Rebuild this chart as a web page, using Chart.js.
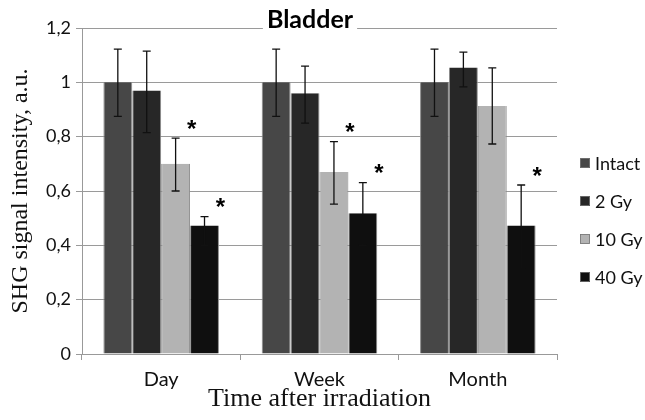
<!DOCTYPE html>
<html>
<head>
<meta charset="utf-8">
<script src="https://cdn.jsdelivr.net/npm/chart.js@4"></script>
<style>
    html, body { margin: 0; padding: 0; background: #fff; }
    #wrap { width: 645px; height: 420px; position: relative; }
</style>
</head>
<body>
<div id="wrap"><canvas id="chart"></canvas></div>
<script>
// Data
const categories = ['Day', 'Week', 'Month'];
const seriesNames = ['Intact', '2 Gy', '10 Gy', '40 Gy'];

const intact = [1.0, 1.0, 1.0];
const gy2 = [0.97, 0.96, 1.055];
const gy10 = [0.70, 0.67, 0.913];
const gy40 = [0.473, 0.518, 0.473];

// error bar ends (low / high)
const intactLow = [0.875, 0.875, 0.875];
const intactHigh = [1.122, 1.122, 1.122];
const gy2Low = [0.815, 0.85, 0.983];
const gy2High = [1.115, 1.06, 1.111];
const gy10Low = [0.60, 0.552, 0.773];
const gy10High = [0.795, 0.782, 1.053];
const gy40Low = [0.40, 0.40, 0.317];
const gy40High = [0.506, 0.631, 0.622];

// significance marks (*)
const gy10Star = [true, true, false];
const gy40Star = [true, true, true];

const yTicks = [0, 0.2, 0.4, 0.6, 0.8, 1.0, 1.2];

const barColors = ['#474747', '#272727', '#b3b3b3', '#0f0f0f'];
const sansFont = 'Lato, "Open Sans", sans-serif';
const serifFont = '"Liberation Serif", "DejaVu Serif", serif';

function makeDataset(label, values, low, high, stars, color) {
    return {
        label: label,
        data: values,
        errLow: low,
        errHigh: high,
        stars: stars,
        backgroundColor: color,
        borderColor: '#8c8c8c',
        borderWidth: { top: 0, left: 1, right: 1, bottom: 0 },
        categoryPercentage: 0.73,
        barPercentage: 1.0
    };
}

// Error bars and asterisks
const errorBarPlugin = {
    id: 'errorBars',
    afterDatasetsDraw(chart) {
        const ctx = chart.ctx;
        const y = chart.scales.y;
        ctx.save();
        chart.data.datasets.forEach((ds, i) => {
            const meta = chart.getDatasetMeta(i);
            meta.data.forEach((bar, j) => {
                const x = bar.x;
                const top = y.getPixelForValue(ds.errHigh[j]);
                const bottom = y.getPixelForValue(ds.errLow[j]);
                ctx.strokeStyle = '#111';
                ctx.lineWidth = 1.3;
                ctx.beginPath();
                ctx.moveTo(x, top);
                ctx.lineTo(x, bottom);
                ctx.moveTo(x - 4, top);
                ctx.lineTo(x + 4, top);
                ctx.moveTo(x - 4, bottom);
                ctx.lineTo(x + 4, bottom);
                ctx.stroke();
                if (ds.stars && ds.stars[j]) {
                    ctx.fillStyle = '#000';
                    ctx.font = 'bold 24px "Liberation Sans", sans-serif';
                    ctx.textAlign = 'center';
                    ctx.textBaseline = 'middle';
                    ctx.fillText('*', x + 16, top - 8);
                }
            });
        });
        ctx.restore();
    }
};

// Title sitting on the top gridline, and the legend on the right
const decorPlugin = {
    id: 'decor',
    afterDraw(chart) {
        const ctx = chart.ctx;
        const area = chart.chartArea;
        ctx.save();
        ctx.font = 'bold 25px ' + sansFont;
        const title = 'Bladder';
        const w = ctx.measureText(title).width;
        const cx = 310;
        ctx.fillStyle = '#fff';
        ctx.fillRect(cx - w / 2 - 4, area.top - 18, w + 8, 32);
        ctx.fillStyle = '#000';
        ctx.textAlign = 'center';
        ctx.textBaseline = 'middle';
        ctx.fillText(title, cx, area.top - 8);

        ctx.font = '18px ' + sansFont;
        ctx.textAlign = 'left';
        chart.data.datasets.forEach((ds, i) => {
            const yy = 163 + i * 38;
            ctx.fillStyle = ds.backgroundColor;
            ctx.fillRect(580, yy - 5, 10, 10);
            ctx.strokeStyle = '#777';
            ctx.lineWidth = 0.8;
            ctx.strokeRect(580.5, yy - 4.5, 9, 9);
            ctx.fillStyle = '#111';
            ctx.fillText(ds.label, 595, yy + 1);
        });
        ctx.restore();
    }
};

const seriesValues = [intact, gy2, gy10, gy40];
const seriesLow = [intactLow, gy2Low, gy10Low, gy40Low];
const seriesHigh = [intactHigh, gy2High, gy10High, gy40High];
const seriesStars = [null, null, gy10Star, gy40Star];

new Chart(document.getElementById('chart'), {
    type: 'bar',
    data: {
        labels: categories,
        datasets: seriesNames.map((name, i) =>
            makeDataset(name, seriesValues[i], seriesLow[i], seriesHigh[i], seriesStars[i], barColors[i]))
    },
    options: {
        responsive: true,
        maintainAspectRatio: false,
        animation: false,
        layout: {
            padding: { top: 28, right: 88, bottom: 0, left: 0 }
        },
        plugins: {
            legend: { display: false },
            tooltip: { enabled: false }
        },
        scales: {
            x: {
                afterFit(scale) { scale.height = 66; },
                grid: {
                    display: true,
                    offset: true,
                    drawOnChartArea: false,
                    drawTicks: true,
                    tickLength: 6,
                    color: '#999'
                },
                border: { display: true, color: '#999' },
                ticks: {
                    color: '#111',
                    font: { family: sansFont, size: 20 },
                    padding: 8
                },
                title: {
                    display: true,
                    text: 'Time after irradiation',
                    color: '#111',
                    font: { family: serifFont, size: 26 },
                    padding: { top: 0, bottom: 5 }
                }
            },
            y: {
                min: 0,
                max: 1.2,
                afterFit(scale) { scale.width = 82; },
                afterBuildTicks(scale) {
                    scale.ticks = yTicks.map(v => ({ value: v }));
                },
                grid: {
                    color: '#9a9a9a',
                    tickLength: 6
                },
                border: { display: true, color: '#999' },
                ticks: {
                    color: '#111',
                    font: { family: sansFont, size: 18 },
                    padding: 5,
                    callback: v => String(Number(v.toFixed(1))).replace('.', ',')
                },
                title: {
                    display: true,
                    text: 'SHG signal intensity, a.u.',
                    color: '#111',
                    font: { family: serifFont, size: 24 },
                    padding: { top: 6, bottom: 0 }
                }
            }
        }
    },
    plugins: [errorBarPlugin, decorPlugin]
});
</script>
</body>
</html>
